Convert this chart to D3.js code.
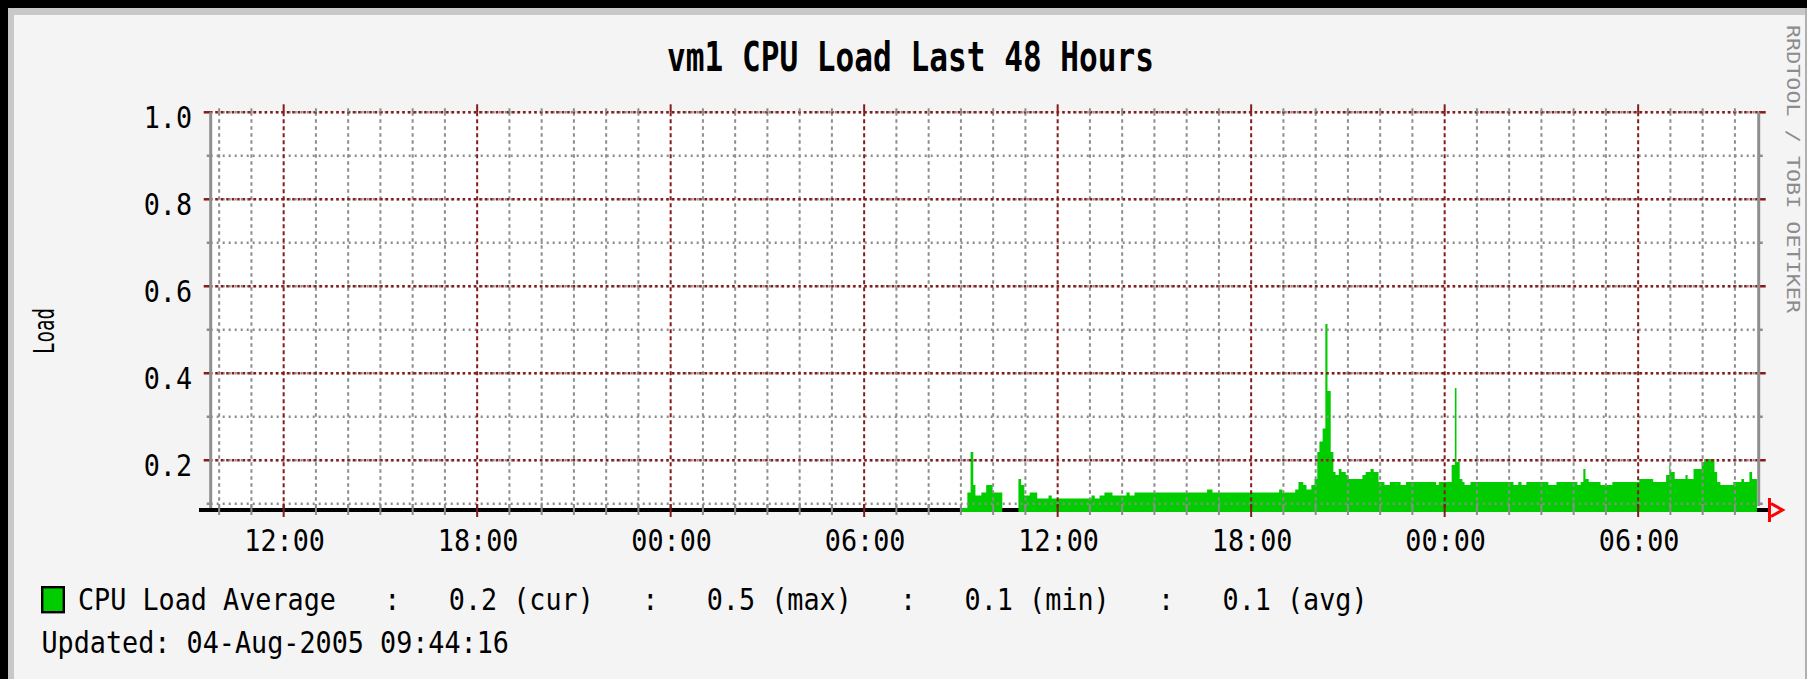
<!DOCTYPE html>
<html><head><meta charset="utf-8">
<script src="https://cdn.jsdelivr.net/npm/d3@7"></script>
<style>
html,body{margin:0;padding:0;background:#f4f4f4;overflow:hidden}
svg{display:block}
text{font-family:"DejaVu Sans Mono","Liberation Mono",monospace;white-space:pre}
</style></head><body>
<svg id="chart" width="1807" height="679"></svg>
<script>
// ---------- data ----------
const chartTitle = "vm1 CPU Load Last 48 Hours";
const yAxisTitle = "Load";
const watermarkText = "RRDTOOL / TOBI OETIKER";
const updatedText = "Updated: 04-Aug-2005 09:44:16";
const seriesName = "CPU Load Average";
const statLabels = ["cur", "max", "min", "avg"];
const statValues = [0.2, 0.5, 0.1, 0.1];
const timeDomain = ["2005-08-02 09:44:16", "2005-08-04 09:44:16"];
const yMajorTicks = [0.2, 0.4, 0.6, 0.8, 1.0];
const yMinorTicks = [0.1, 0.2, 0.3, 0.4, 0.5, 0.6, 0.7, 0.8, 0.9, 1.0];
const yAxisMin = 0.081;
const yAxisMax = 1.0;

// sample start times (step values hold until next sample); null = no data
const sampleTimes = [
  "2005-08-03 09:02","2005-08-03 09:12","2005-08-03 09:18","2005-08-03 09:23","2005-08-03 09:27",
  "2005-08-03 09:38","2005-08-03 09:47","2005-08-03 09:59","2005-08-03 10:17","2005-08-03 10:47",
  "2005-08-03 10:52","2005-08-03 10:58","2005-08-03 11:08","2005-08-03 11:22","2005-08-03 11:43",
  "2005-08-03 11:49","2005-08-03 13:03","2005-08-03 13:09","2005-08-03 13:18","2005-08-03 13:27",
  "2005-08-03 13:42","2005-08-03 14:08","2005-08-03 14:14","2005-08-03 14:23","2005-08-03 16:38",
  "2005-08-03 16:48","2005-08-03 18:52","2005-08-03 18:58","2005-08-03 19:22","2005-08-03 19:28",
  "2005-08-03 19:37","2005-08-03 19:43","2005-08-03 19:52","2005-08-03 19:58","2005-08-03 20:03",
  "2005-08-03 20:07","2005-08-03 20:13","2005-08-03 20:18","2005-08-03 20:22","2005-08-03 20:28",
  "2005-08-03 20:33","2005-08-03 20:37","2005-08-03 20:43","2005-08-03 20:48","2005-08-03 20:56",
  "2005-08-03 21:01","2005-08-03 21:27","2005-08-03 21:33","2005-08-03 21:42","2005-08-03 21:48",
  "2005-08-03 21:57","2005-08-03 22:08","2005-08-03 22:18","2005-08-03 22:38","2005-08-03 22:48",
  "2005-08-03 23:44","2005-08-03 23:49","2005-08-04 00:13","2005-08-04 00:19","2005-08-04 00:22",
  "2005-08-04 00:28","2005-08-04 00:33","2005-08-04 00:37","2005-08-04 00:48","2005-08-04 02:08",
  "2005-08-04 02:17","2005-08-04 02:23","2005-08-04 02:32","2005-08-04 03:13","2005-08-04 03:28",
  "2005-08-04 04:07","2005-08-04 04:13","2005-08-04 04:18","2005-08-04 04:22","2005-08-04 04:28",
  "2005-08-04 04:50","2005-08-04 05:12","2005-08-04 06:02","2005-08-04 06:28","2005-08-04 06:52",
  "2005-08-04 06:58","2005-08-04 07:00","2005-08-04 07:08","2005-08-04 07:28","2005-08-04 07:32",
  "2005-08-04 07:43","2005-08-04 07:58","2005-08-04 08:03","2005-08-04 08:22","2005-08-04 08:27",
  "2005-08-04 08:33","2005-08-04 08:57","2005-08-04 09:12","2005-08-04 09:17","2005-08-04 09:27",
  "2005-08-04 09:32","2005-08-04 09:41"
];
const loadValues = [
  0.090,0.126,0.219,0.143,0.119,
  0.126,0.143,0.126,null,0.157,
  0.143,0.119,0.126,0.112,0.119,
  0.112,0.119,0.112,0.119,0.126,
  0.119,0.126,0.119,0.126,0.133,
  0.126,0.133,0.126,0.133,0.150,
  0.143,0.133,0.143,0.157,0.219,
  0.243,0.273,0.513,0.359,0.219,
  0.173,0.166,0.180,0.173,0.166,
  0.157,0.166,0.173,0.180,0.173,
  0.150,0.143,0.150,0.143,0.150,
  0.143,0.150,0.189,0.366,0.196,
  0.157,0.150,0.143,0.150,0.143,
  0.150,0.143,0.150,0.143,0.150,
  0.143,0.150,0.180,0.157,0.150,
  0.143,0.150,0.157,0.150,0.166,
  0.189,0.173,0.157,0.166,0.157,
  0.180,0.196,0.203,0.173,0.150,
  0.143,0.150,0.157,0.150,0.173,
  0.157,null
];

// ---------- layout ----------
const W = 1807, H = 679;
const plot = {left: 210.7, right: 1758.7, top: 112.3, bottom: 512};
const MONO = 16.12;          // px per character of the legend / tick font
const colors = {bg: "#f4f4f4", frame: "#c8c8c8", major: "#861b1b", minor: "#8c8c8c",
                axis: "#8f8f8f", area: "#00cc00", arrow: "#ff0000"};

const svg = d3.select("#chart");
const parseFull = d3.timeParse("%Y-%m-%d %H:%M:%S");
const parseMin = d3.timeParse("%Y-%m-%d %H:%M");

const x = d3.scaleTime().domain(timeDomain.map(parseFull)).range([plot.left, plot.right]);
const y = d3.scaleLinear().domain([yAxisMin, yAxisMax]).range([plot.bottom, plot.top]);

// background and frame
svg.append("rect").attr("width", W).attr("height", H).attr("fill", colors.bg);
svg.append("rect").attr("x", 0).attr("y", 0).attr("width", W).attr("height", 8).attr("fill", "#000");
svg.append("rect").attr("x", 0).attr("y", 0).attr("width", 8).attr("height", H).attr("fill", "#000");
svg.append("rect").attr("x", 8).attr("y", 8).attr("width", W - 8).attr("height", 7).attr("fill", colors.frame);
svg.append("rect").attr("x", 8).attr("y", 8).attr("width", 6).attr("height", H - 8).attr("fill", colors.frame);
svg.append("rect").attr("x", W - 2).attr("y", 8).attr("width", 2).attr("height", H - 8).attr("fill", "#b0b0b0");

// plot background
svg.append("rect").attr("x", plot.left).attr("y", plot.top)
  .attr("width", plot.right - plot.left).attr("height", 508 - plot.top).attr("fill", "#ffffff");

// x axis black bar
svg.append("rect").attr("x", 199).attr("y", 508).attr("width", 1768 - 199).attr("height", 4).attr("fill", "#000");

// area data
const pts = [];
sampleTimes.forEach((s, i) => {
  const t = parseMin(s), v = loadValues[i];
  if (v == null) {
    if (i > 0 && loadValues[i - 1] != null) pts.push({t, v: loadValues[i - 1]});
    pts.push({t, v: null});
  } else pts.push({t, v});
});
const area = d3.area()
  .defined(d => d.v != null)
  .curve(d3.curveStepAfter)
  .x(d => x(d.t)).y0(plot.bottom).y1(d => y(d.v));
svg.append("path").datum(pts).attr("d", area).attr("fill", colors.area);

// grid
const grid = svg.append("g");
const hours = x.ticks(d3.timeHour.every(1));
const majorHours = x.ticks(d3.timeHour.every(6));
const isMajor = d => d.getHours() % 6 === 0;

grid.selectAll(".hmin").data(yMinorTicks).join("line")
  .attr("x1", plot.left).attr("x2", plot.right)
  .attr("y1", d => y(d)).attr("y2", d => y(d))
  .attr("stroke", colors.minor).attr("stroke-width", 2.5).attr("stroke-dasharray", "2,4");
grid.selectAll(".vmin").data(hours.filter(d => !isMajor(d))).join("line")
  .attr("x1", d => x(d)).attr("x2", d => x(d))
  .attr("y1", plot.top).attr("y2", 508)
  .attr("stroke", colors.minor).attr("stroke-width", 2).attr("stroke-dasharray", "3.5,3.5");
grid.selectAll(".hmaj").data(yMajorTicks).join("line")
  .attr("x1", plot.left).attr("x2", plot.right)
  .attr("y1", d => y(d)).attr("y2", d => y(d))
  .attr("stroke", colors.major).attr("stroke-width", 2.5).attr("stroke-dasharray", "2.5,3")
  .attr("stroke-dashoffset", 1);
grid.selectAll(".vmaj").data(majorHours).join("line")
  .attr("x1", d => x(d)).attr("x2", d => x(d))
  .attr("y1", plot.top).attr("y2", 508)
  .attr("stroke", colors.major).attr("stroke-width", 2).attr("stroke-dasharray", "4,3");

// tick marks (outside)
const ticks = svg.append("g");
yMinorTicks.forEach(v => {
  const maj = yMajorTicks.includes(v);
  const len = maj ? 7 : 4;
  const c = maj ? colors.major : colors.minor;
  ticks.append("line").attr("x1", plot.left - len).attr("x2", plot.left).attr("y1", y(v)).attr("y2", y(v))
    .attr("stroke", c).attr("stroke-width", 2.5);
  ticks.append("line").attr("x1", plot.right).attr("x2", plot.right + len).attr("y1", y(v)).attr("y2", y(v))
    .attr("stroke", c).attr("stroke-width", 2.5);
});
hours.forEach(h => {
  const maj = isMajor(h);
  const c = maj ? colors.major : colors.minor;
  ticks.append("line").attr("x1", x(h)).attr("x2", x(h))
    .attr("y1", plot.top - (maj ? 8 : 4)).attr("y2", plot.top).attr("stroke", c).attr("stroke-width", 2);
  ticks.append("line").attr("x1", x(h)).attr("x2", x(h))
    .attr("y1", 504).attr("y2", maj ? 517 : 515).attr("stroke", c).attr("stroke-width", 2);
});

// axis lines (gray)
svg.append("rect").attr("x", plot.left - 1.5).attr("y", plot.top).attr("width", 3).attr("height", 508 - plot.top).attr("fill", colors.axis);
svg.append("rect").attr("x", plot.right - 1.5).attr("y", plot.top).attr("width", 3).attr("height", 506 - plot.top).attr("fill", colors.axis);

// arrow at end of x axis
svg.append("path")
  .attr("d", "M1769.5,498V522M1771,503.5L1782.5,510L1771,516.5")
  .attr("fill", "none").attr("stroke", colors.arrow).attr("stroke-width", 3);

// axes labels
const yAxis = d3.axisLeft(y).tickValues(yMajorTicks).tickFormat(d3.format(".1f")).tickSize(0).tickPadding(0);
const gy = svg.append("g").attr("transform", `translate(192,0)`).call(yAxis);
gy.select(".domain").remove();
gy.selectAll("text").attr("font-family", null).attr("font-size", 31).attr("fill", "#000")
  .attr("x", 0).attr("dy", null).attr("y", 15)
  .attr("textLength", d => d3.format(".1f")(d).length * MONO).attr("lengthAdjust", "spacingAndGlyphs");

const xAxis = d3.axisBottom(x).ticks(d3.timeHour.every(6)).tickFormat(d3.timeFormat("%H:%M")).tickSize(0).tickPadding(0);
const gx = svg.append("g").attr("transform", `translate(0.5,0)`).call(xAxis);
gx.select(".domain").remove();
gx.selectAll("text").attr("font-family", null).attr("font-size", 30).attr("fill", "#000")
  .attr("dy", null).attr("y", 551)
  .attr("textLength", 5 * MONO).attr("lengthAdjust", "spacingAndGlyphs");

// title
svg.append("text").attr("x", 667).attr("y", 71).attr("font-size", 40).attr("font-weight", "bold")
  .attr("textLength", 487).attr("lengthAdjust", "spacingAndGlyphs").text(chartTitle);

// y axis title
svg.append("text").attr("transform", "translate(54,331) rotate(-90)").attr("text-anchor", "middle")
  .attr("font-size", 29).attr("textLength", 46).attr("lengthAdjust", "spacingAndGlyphs").text(yAxisTitle);

// watermark
svg.append("text").attr("transform", "translate(1787,25) rotate(90)").attr("font-size", 18.5)
  .attr("fill", "#8c8c8c").attr("textLength", 288).attr("lengthAdjust", "spacingAndGlyphs").text(watermarkText);

// legend
svg.append("rect").attr("x", 42.2).attr("y", 587.2).attr("width", 21.6).attr("height", 25)
  .attr("fill", colors.area).attr("stroke", "#000").attr("stroke-width", 2.4);
const statText = statValues.map((v, i) => `   :   ${d3.format(".1f")(v)} (${statLabels[i]})`).join("");
const legendStr = seriesName + statText;
svg.append("text").attr("x", 78).attr("y", 610).attr("font-size", 30)
  .attr("textLength", legendStr.length * MONO).attr("lengthAdjust", "spacingAndGlyphs").text(legendStr);
svg.append("text").attr("x", 41.5).attr("y", 653).attr("font-size", 30)
  .attr("textLength", updatedText.length * MONO).attr("lengthAdjust", "spacingAndGlyphs").text(updatedText);
</script>
</body></html>
